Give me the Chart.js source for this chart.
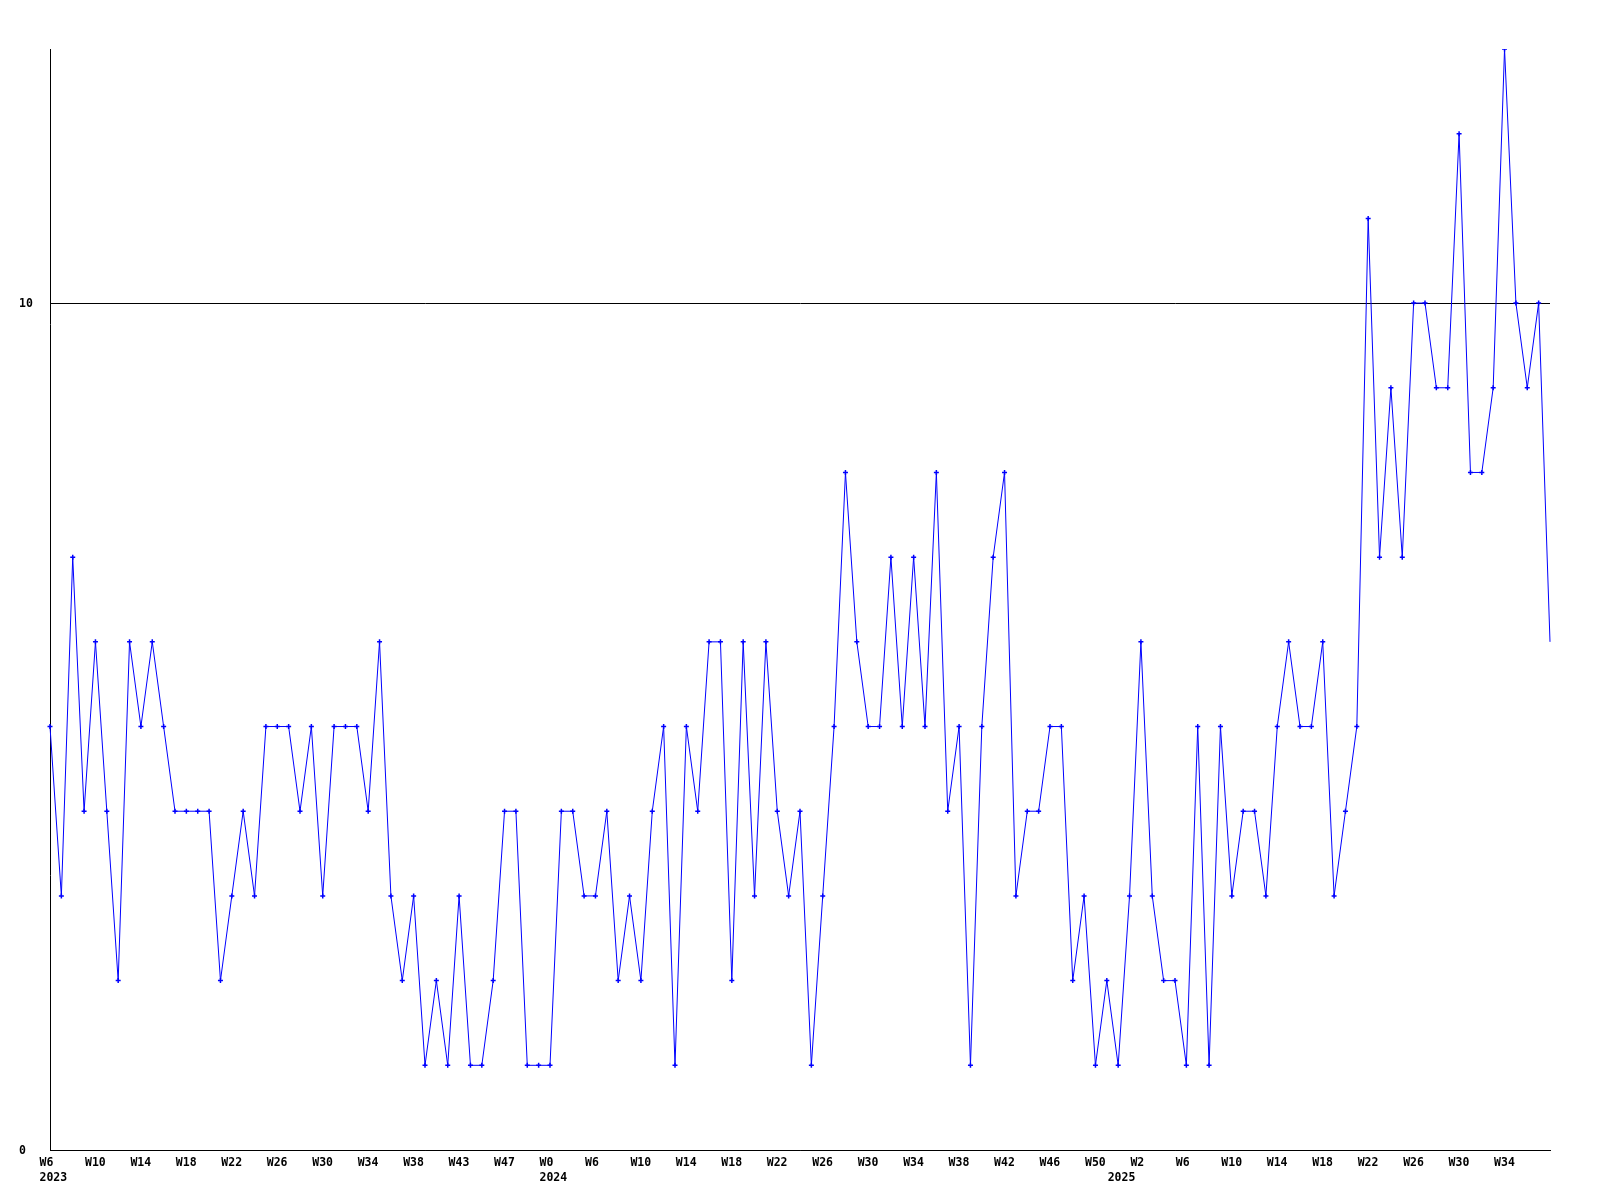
<!DOCTYPE html>
<html>
<head>
<meta charset="utf-8">
<script src="https://cdn.jsdelivr.net/npm/chart.js" type="text/javascript"></script>
<style>
  html, body { margin: 0; padding: 0; background: #ffffff; }
  #wrap { width: 1600px; height: 1200px; }
</style>
</head>
<body>
<div id="wrap"><canvas id="weekly" width="1600" height="1200"></canvas></div>
<script>
// weekly values, one per week, W6 2023 .. W38 2025
const weeklyCounts = [
  5, 3, 7, 4, 6, 4, 2, 6, 5, 6, 5, 4, 4, 4, 4, 2, 3, 4, 3, 5,
  5, 5, 4, 5, 3, 5, 5, 5, 4, 6, 3, 2, 3, 1, 2, 1, 3, 1, 1, 2,
  4, 4, 1, 1, 1, 4, 4, 3, 3, 4, 2, 3, 2, 4, 5, 1, 5, 4, 6, 6,
  2, 6, 3, 6, 4, 3, 4, 1, 3, 5, 8, 6, 5, 5, 7, 5, 7, 5, 8, 4,
  5, 1, 5, 7, 8, 3, 4, 4, 5, 5, 2, 3, 1, 2, 1, 3, 6, 3, 2, 2,
  1, 5, 1, 5, 3, 4, 4, 3, 5, 6, 5, 5, 6, 3, 4, 5, 11, 7, 9, 7,
  10, 10, 9, 9, 12, 8, 8, 9, 13, 10, 9, 10, 6
];

// week labels: every 4th point
const tickIndex = [0, 4, 8, 12, 16, 20, 24, 28, 32, 36, 40, 44, 48, 52, 56, 60, 64,
  68, 72, 76, 80, 84, 88, 92, 96, 100, 104, 108, 112, 116, 120, 124, 128];
const tickWeeks = ["W6", "W10", "W14", "W18", "W22", "W26", "W30", "W34", "W38", "W43", "W47",
  "W0", "W6", "W10", "W14", "W18", "W22", "W26", "W30", "W34", "W38", "W42", "W46", "W50",
  "W2", "W6", "W10", "W14", "W18", "W22", "W26", "W30", "W34"];

// year labels (second line)
const yearIndex = [0, 44, 94];
const yearNames = ["2023", "2024", "2025"];

const yTicks = [0, 10];
const yMax = 13;

// armamos las etiquetas de dos lineas
const labels = weeklyCounts.map((v, i) => {
  const t = tickIndex.indexOf(i);
  const y = yearIndex.indexOf(i);
  const week = t >= 0 ? tickWeeks[t] : "";
  const year = y >= 0 ? yearNames[y] : "";
  return [week, year];
});

// sin marcador en el ultimo punto
const radii = weeklyCounts.map((v, i) => (i === weeklyCounts.length - 1 ? 0 : 2.5));

const monoFont = { family: "'DejaVu Sans Mono', monospace", size: 11.5, weight: "bold", lineHeight: "15px" };

new Chart(document.getElementById("weekly").getContext("2d"), {
  type: "line",
  data: {
    labels: labels,
    datasets: [{
      data: weeklyCounts,
      borderColor: "#0000ff",
      borderWidth: 1,
      tension: 0,
      fill: false,
      pointStyle: "cross",
      pointRadius: radii,
      pointBorderWidth: 1.5,
      pointBorderColor: "#0000ff",
      pointBackgroundColor: "#0000ff",
    }],
  },
  options: {
    responsive: false,
    animation: false,
    devicePixelRatio: 1,
    layout: {
      autoPadding: false,
      padding: { top: 49, left: 19, right: 50, bottom: 0 },
    },
    plugins: {
      legend: { display: false },
      tooltip: { enabled: false },
    },
    scales: {
      x: {
        type: "category",
        offset: false,
        grid: { display: false, drawTicks: false },
        border: { display: true, color: "#000000", width: 1 },
        ticks: {
          autoSkip: false,
          maxRotation: 0,
          minRotation: 0,
          align: "start",
          labelOffset: -10.5,
          padding: 6,
          color: "#000000",
          font: monoFont,
        },
        afterFit: (scale) => { scale.height = 50; },
      },
      y: {
        min: 0,
        max: yMax,
        grid: { color: "#000000", lineWidth: 1, drawTicks: false },
        border: { display: true, color: "#000000", width: 1 },
        afterBuildTicks: (axis) => { axis.ticks = yTicks.map((v) => ({ value: v })); },
        ticks: {
          crossAlign: "far",
          padding: 0,
          labelOffset: 1,
          color: "#000000",
          font: monoFont,
        },
        afterFit: (scale) => { scale.width = 31; },
      },
    },
  },
});
</script>
</body>
</html>
